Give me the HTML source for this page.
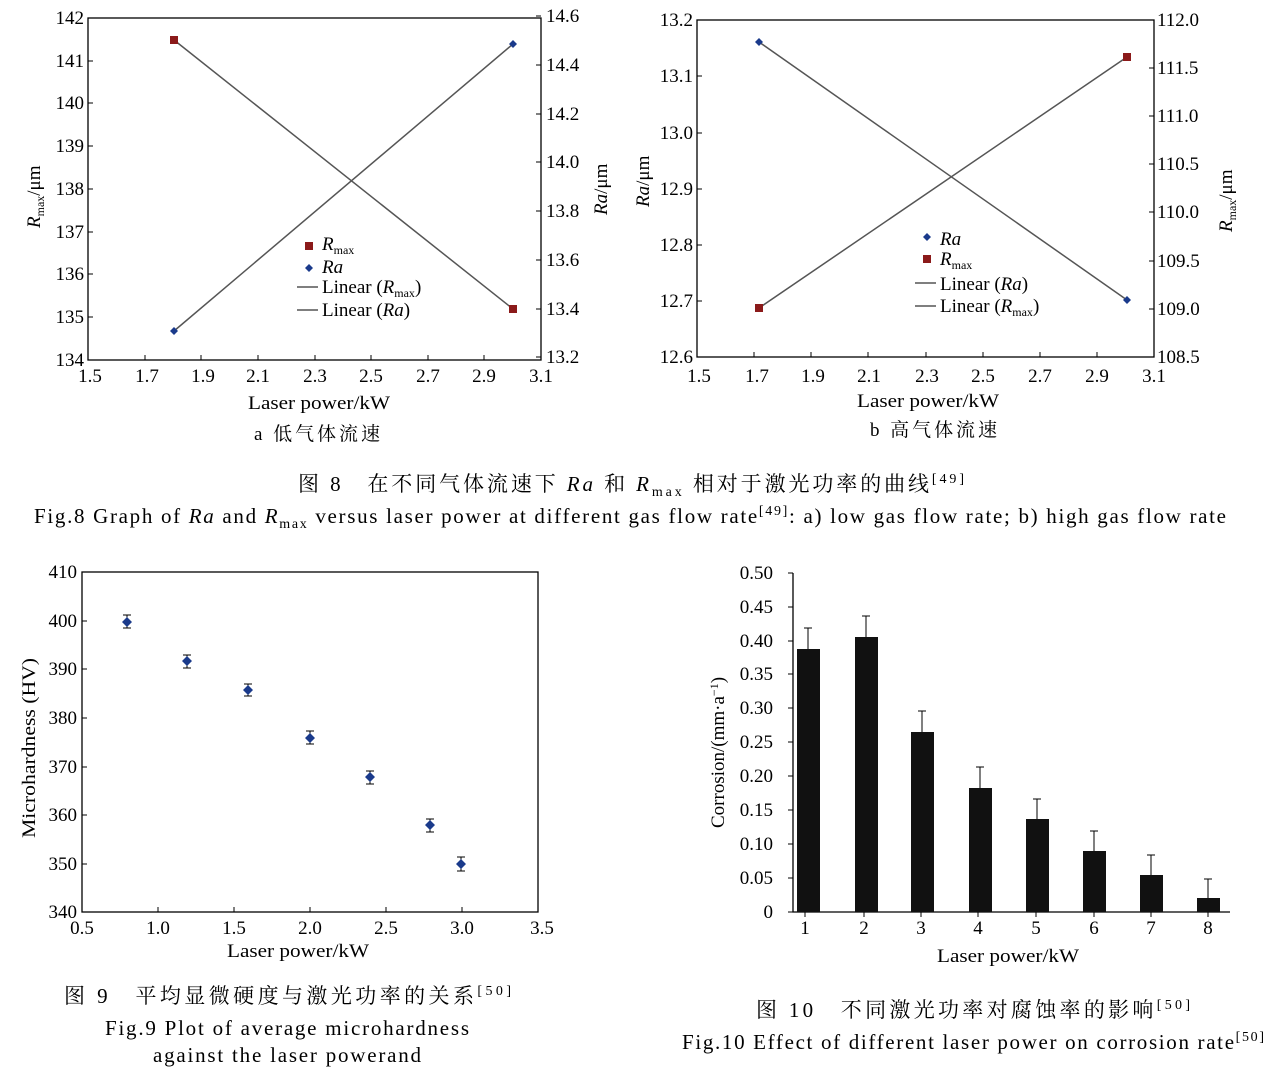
<!DOCTYPE html>
<html><head><meta charset="utf-8"><style>
body{margin:0;background:#fff;}
svg{display:block;}
text{font-family:"Liberation Serif","Noto Serif CJK SC",serif;fill:#000;}
.t{font-size:19px;}
.c{font-family:"Liberation Serif","Noto Serif CJK SC","Noto Sans CJK SC",serif;}
</style></head><body>
<svg width="1273" height="1068" viewBox="0 0 1273 1068" xmlns="http://www.w3.org/2000/svg">
<g stroke="#000" stroke-width="1.3" fill="none">
<rect x="88" y="18" width="453" height="342"/>
<rect x="697" y="20" width="457" height="337"/>
<rect x="82" y="572" width="456" height="340"/>
<path d="M793,573 V912 H1230"/>
</g>
<g stroke="#000" stroke-width="1">
<path d="M88,360h5M88,317h5M88,274h5M88,232h5M88,189h5M88,146h5M88,103h5M88,61h5M88,18h5"/>
<path d="M541,357h-5M541,309h-5M541,260h-5M541,211h-5M541,162h-5M541,114h-5M541,65h-5M541,16h-5"/>
<path d="M88,360v-5M145,360v-5M201,360v-5M258,360v-5M315,360v-5M371,360v-5M428,360v-5M484,360v-5M541,360v-5"/>
<path d="M697,357h5M697,301h5M697,245h5M697,189h5M697,133h5M697,76h5M697,20h5"/>
<path d="M1154,357h-5M1154,309h-5M1154,261h-5M1154,212h-5M1154,164h-5M1154,116h-5M1154,68h-5M1154,20h-5"/>
<path d="M697,357v-5M754,357v-5M811,357v-5M868,357v-5M926,357v-5M983,357v-5M1040,357v-5M1097,357v-5M1154,357v-5"/>
<path d="M82,912h5M82,864h5M82,815h5M82,767h5M82,718h5M82,669h5M82,621h5M82,572h5"/>
<path d="M82,912v-5M158,912v-5M234,912v-5M310,912v-5M386,912v-5M462,912v-5M538,912v-5"/>
<path d="M793,912h-5M793,878h-5M793,844h-5M793,810h-5M793,776h-5M793,742h-5M793,708h-5M793,674h-5M793,641h-5M793,607h-5M793,573h-5"/>
<path d="M805,912v5M864,912v5M921,912v5M978,912v5M1036,912v5M1094,912v5M1151,912v5M1208,912v5"/>
</g>
<g stroke="#555" stroke-width="1.5">
<line x1="174" y1="40" x2="513" y2="309"/>
<line x1="174" y1="331" x2="513" y2="44"/>
<line x1="759" y1="42" x2="1127" y2="300"/>
<line x1="759" y1="308" x2="1127" y2="57"/>
<line x1="297" y1="287" x2="318" y2="287"/>
<line x1="297" y1="310" x2="318" y2="310"/>
<line x1="915" y1="283" x2="936" y2="283"/>
<line x1="915" y1="306" x2="936" y2="306"/>
</g>
<g fill="#8b1a1a">
<rect x="170" y="36" width="8" height="8"/><rect x="509" y="305" width="8" height="8"/>
<rect x="755" y="304" width="8" height="8"/><rect x="1123" y="53" width="8" height="8"/>
<rect x="305" y="242" width="8" height="8"/><rect x="923" y="255" width="8" height="8"/>
</g>
<g fill="#1a3a8b">
<path d="M174,327l4,4l-4,4l-4,-4z M513,40l4,4l-4,4l-4,-4z M759,38l4,4l-4,4l-4,-4z M1127,296l4,4l-4,4l-4,-4z M309,264l4,4l-4,4l-4,-4z M927,233l4,4l-4,4l-4,-4z"/>
</g>
<g class="t" text-anchor="end">
<text x="84" y="366">134</text><text x="84" y="323">135</text><text x="84" y="280">136</text><text x="84" y="238">137</text><text x="84" y="195">138</text><text x="84" y="152">139</text><text x="84" y="109">140</text><text x="84" y="67">141</text><text x="84" y="24">142</text>
<text x="693" y="363">12.6</text><text x="693" y="307">12.7</text><text x="693" y="251">12.8</text><text x="693" y="195">12.9</text><text x="693" y="139">13.0</text><text x="693" y="82">13.1</text><text x="693" y="26">13.2</text>
<text x="77" y="918">340</text><text x="77" y="870">350</text><text x="77" y="821">360</text><text x="77" y="773">370</text><text x="77" y="724">380</text><text x="77" y="675">390</text><text x="77" y="627">400</text><text x="77" y="578">410</text>
<text x="773" y="918">0</text><text x="773" y="884">0.05</text><text x="773" y="850">0.10</text><text x="773" y="816">0.15</text><text x="773" y="782">0.20</text><text x="773" y="748">0.25</text><text x="773" y="714">0.30</text><text x="773" y="680">0.35</text><text x="773" y="647">0.40</text><text x="773" y="613">0.45</text><text x="773" y="579">0.50</text>
</g>
<g class="t">
<text x="546" y="363">13.2</text><text x="546" y="315">13.4</text><text x="546" y="266">13.6</text><text x="546" y="217">13.8</text><text x="546" y="168">14.0</text><text x="546" y="120">14.2</text><text x="546" y="71">14.4</text><text x="546" y="22">14.6</text>
<text x="1157" y="363">108.5</text><text x="1157" y="315">109.0</text><text x="1157" y="267">109.5</text><text x="1157" y="218">110.0</text><text x="1157" y="170">110.5</text><text x="1157" y="122">111.0</text><text x="1157" y="74">111.5</text><text x="1157" y="26">112.0</text>
</g>
<g class="t" text-anchor="middle">
<text x="90" y="382">1.5</text><text x="147" y="382">1.7</text><text x="203" y="382">1.9</text><text x="258" y="382">2.1</text><text x="315" y="382">2.3</text><text x="371" y="382">2.5</text><text x="428" y="382">2.7</text><text x="484" y="382">2.9</text><text x="541" y="382">3.1</text>
<text x="699" y="382">1.5</text><text x="757" y="382">1.7</text><text x="813" y="382">1.9</text><text x="869" y="382">2.1</text><text x="927" y="382">2.3</text><text x="983" y="382">2.5</text><text x="1040" y="382">2.7</text><text x="1097" y="382">2.9</text><text x="1154" y="382">3.1</text>
<text x="82" y="934">0.5</text><text x="158" y="934">1.0</text><text x="234" y="934">1.5</text><text x="310" y="934">2.0</text><text x="386" y="934">2.5</text><text x="462" y="934">3.0</text><text x="542" y="934">3.5</text>
<text x="805" y="934">1</text><text x="864" y="934">2</text><text x="921" y="934">3</text><text x="978" y="934">4</text><text x="1036" y="934">5</text><text x="1094" y="934">6</text><text x="1151" y="934">7</text><text x="1208" y="934">8</text>
</g>
<g class="t">
<text x="248" y="409" textLength="142" lengthAdjust="spacingAndGlyphs">Laser power/kW</text>
<text x="857" y="407" textLength="142" lengthAdjust="spacingAndGlyphs">Laser power/kW</text>
<text x="227" y="957" textLength="142" lengthAdjust="spacingAndGlyphs">Laser power/kW</text>
<text x="937" y="962" textLength="142" lengthAdjust="spacingAndGlyphs">Laser power/kW</text>
<text x="254" y="440" class="c" textLength="126">a  低气体流速</text>
<text x="870" y="436" class="c" textLength="127">b  高气体流速</text>
</g>
<g class="t">
<text x="322" y="250"><tspan font-style="italic">R</tspan><tspan font-size="12" dy="4">max</tspan></text>
<text x="322" y="273" font-style="italic">Ra</text>
<text x="322" y="293">Linear (<tspan font-style="italic">R</tspan><tspan font-size="12" dy="4">max</tspan><tspan dy="-4">)</tspan></text>
<text x="322" y="316">Linear (<tspan font-style="italic">Ra</tspan>)</text>
<text x="940" y="245" font-style="italic">Ra</text>
<text x="940" y="265"><tspan font-style="italic">R</tspan><tspan font-size="12" dy="4">max</tspan></text>
<text x="940" y="290">Linear (<tspan font-style="italic">Ra</tspan>)</text>
<text x="940" y="312">Linear (<tspan font-style="italic">R</tspan><tspan font-size="12" dy="4">max</tspan><tspan dy="-4">)</tspan></text>
</g>
<g class="t">
<text transform="translate(40,228) rotate(-90)"><tspan font-style="italic">R</tspan><tspan font-size="12" dy="4">max</tspan><tspan dy="-4">/μm</tspan></text>
<text transform="translate(607,215) rotate(-90)"><tspan font-style="italic">Ra</tspan>/μm</text>
<text transform="translate(649,207) rotate(-90)"><tspan font-style="italic">Ra</tspan>/μm</text>
<text transform="translate(1232,232) rotate(-90)"><tspan font-style="italic">R</tspan><tspan font-size="12" dy="4">max</tspan><tspan dy="-4">/μm</tspan></text>
<text transform="translate(35,838) rotate(-90)" textLength="180" lengthAdjust="spacingAndGlyphs">Microhardness (HV)</text>
<text transform="translate(724,828) rotate(-90)">Corrosion/(mm·a<tspan font-size="12" dy="-6">−1</tspan><tspan dy="6">)</tspan></text>
</g>
<g stroke="#000" stroke-width="1">
<path d="M127,615v13M123,615h8M123,628h8 M187,655v13M183,655h8M183,668h8 M248,684v12M244,684h8M244,696h8 M310,731v13M306,731h8M306,744h8 M370,771v13M366,771h8M366,784h8 M430,819v13M426,819h8M426,832h8 M461,857v14M457,857h8M457,871h8"/>
</g>
<g fill="#1a3a8b">
<path d="M127,617l5,5l-5,5l-5,-5z M187,656l5,5l-5,5l-5,-5z M248,685l5,5l-5,5l-5,-5z M310,733l5,5l-5,5l-5,-5z M370,772l5,5l-5,5l-5,-5z M430,820l5,5l-5,5l-5,-5z M461,859l5,5l-5,5l-5,-5z"/>
</g>
<g fill="#111">
<rect x="797" y="649" width="23" height="263"/>
<rect x="855" y="637" width="23" height="275"/>
<rect x="911" y="732" width="23" height="180"/>
<rect x="969" y="788" width="23" height="124"/>
<rect x="1026" y="819" width="23" height="93"/>
<rect x="1083" y="851" width="23" height="61"/>
<rect x="1140" y="875" width="23" height="37"/>
<rect x="1197" y="898" width="23" height="14"/>
</g>
<g stroke="#000" stroke-width="1">
<path d="M808,628v21M804,628h8 M866,616v21M862,616h8 M922,711v21M918,711h8 M980,767v21M976,767h8 M1037,799v20M1033,799h8 M1094,831v20M1090,831h8 M1151,855v20M1147,855h8 M1208,879v19M1204,879h8"/>
</g>
<g class="c" font-size="21">
<text x="298" y="491" textLength="666" lengthAdjust="spacing">图 8　在不同气体流速下 <tspan font-style="italic">Ra</tspan> 和 <tspan font-style="italic">R</tspan><tspan font-size="14" dy="5">max</tspan><tspan dy="-5"> 相对于激光功率的曲线</tspan><tspan font-size="14" dy="-8">[49]</tspan></text>
<text x="34" y="523" textLength="1192" lengthAdjust="spacing">Fig.8 Graph of <tspan font-style="italic">Ra</tspan> and <tspan font-style="italic">R</tspan><tspan font-size="14" dy="5">max</tspan><tspan dy="-5"> versus laser power at different gas flow rate</tspan><tspan font-size="14" dy="-8">[49]</tspan><tspan dy="8">: a) low gas flow rate; b) high gas flow rate</tspan></text>
<text x="64" y="1003" textLength="447" lengthAdjust="spacing">图 9　平均显微硬度与激光功率的关系<tspan font-size="14" dy="-8">[50]</tspan></text>
<text x="105" y="1035" textLength="364" lengthAdjust="spacing">Fig.9 Plot of average microhardness</text>
<text x="153" y="1062" textLength="268" lengthAdjust="spacing">against the laser powerand</text>
<text x="756" y="1017" textLength="434" lengthAdjust="spacing">图 10　不同激光功率对腐蚀率的影响<tspan font-size="14" dy="-8">[50]</tspan></text>
<text x="682" y="1049" textLength="582" lengthAdjust="spacing">Fig.10 Effect of different laser power on corrosion rate<tspan font-size="14" dy="-8">[50]</tspan></text>
</g>
</svg>
</body></html>
